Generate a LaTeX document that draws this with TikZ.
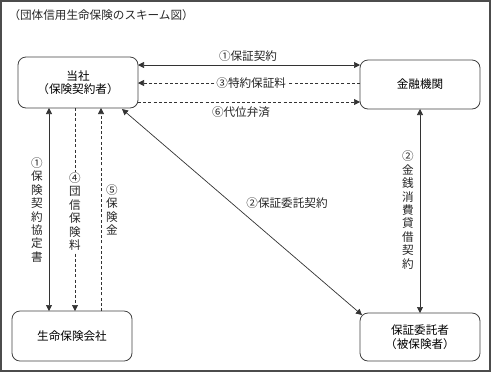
\documentclass[tikz,border=0pt]{standalone}
\usepackage{fontspec}
\setmainfont{Noto Sans CJK JP}
\usetikzlibrary{arrows.meta}
\begin{document}
\begin{tikzpicture}[x=1pt,y=-1pt,
  font=\fontsize{11.6}{13.4}\selectfont,
  box/.style={draw=black!75,line width=0.8pt,rounded corners=8pt,inner sep=0pt,align=center},
  conn/.style={draw=black!80,line width=0.7pt},
  tip/.style={-{Triangle[length=6pt,width=6pt]}},
  both/.style={{Triangle[length=6pt,width=6pt]}-{Triangle[length=6pt,width=6pt]}},
  dsh/.style={dash pattern=on 3pt off 2.2pt},
  lbl/.style={inner sep=1pt,align=center,text=black!85},
  wlbl/.style={lbl,fill=white}]
\useasboundingbox (0,0) rectangle (494,373);
\draw[black!70,line width=1.1pt] (1,1) rectangle (490,371);
\node[anchor=west,text=black!85] (title) at (5,15) {（団体信用生命保険のスキーム図）};

\node[box,minimum width=120pt,minimum height=51pt] (tosha) at (78,82.5) {当社\\（保険契約者）};
\node[box,minimum width=120pt,minimum height=49pt] (kinyu) at (420,84.5) {金融機関};
\node[box,minimum width=120pt,minimum height=50pt] (seimei) at (72,336) {生命保険会社};
\node[box,minimum width=120pt,minimum height=48pt] (hosho) at (420,337) {保証委託者\\（被保険者）};

% horizontal
\coordinate (a1) at (138,65); \coordinate (b1) at (360,65);
\draw[conn,both] (a1) -- (b1);
\node[lbl] (l1) at (248,56) {①保証契約};
\coordinate (a3) at (138,83); \coordinate (b3) at (360,83);
\draw[conn,dsh,tip] (b3) -- node[wlbl,pos=0.49] (l3) {③特約保証料} (a3);
\coordinate (a6) at (138,102); \coordinate (b6) at (360,102);
\draw[conn,dsh,tip] (a6) -- (b6);
\node[lbl] (l6) at (241,112.5) {⑥代位弁済};

% left verticals
\coordinate (t1) at (49,108); \coordinate (s1) at (49,311);
\draw[conn,both] (t1) -- (s1);
\node[lbl] (v1) at (37,210) {①\\保\\険\\契\\約\\協\\定\\書};
\coordinate (t4) at (75,108); \coordinate (s4) at (75,311);
\draw[conn,dsh,tip] (t4) -- node[wlbl,pos=0.51] (v4) {④\\団\\信\\保\\険\\料} (s4);
\coordinate (t5) at (101,108); \coordinate (s5) at (101,311);
\draw[conn,dsh,tip] (s5) -- (t5);
\node[lbl] (v5) at (112,210) {⑤\\保\\険\\金};

% right vertical
\coordinate (t2) at (420,109); \coordinate (s2) at (420,313);
\draw[conn,both] (t2) -- (s2);
\node[lbl] (v2) at (408,210) {②\\金\\銭\\消\\費\\貸\\借\\契\\約};

% diagonal
\coordinate (d1) at (122,109); \coordinate (d2) at (362,315);
\draw[conn,both] (d1) -- (d2);
\node[lbl] (l2) at (287,203) {②保証委託契約};
\end{tikzpicture}
\end{document}
